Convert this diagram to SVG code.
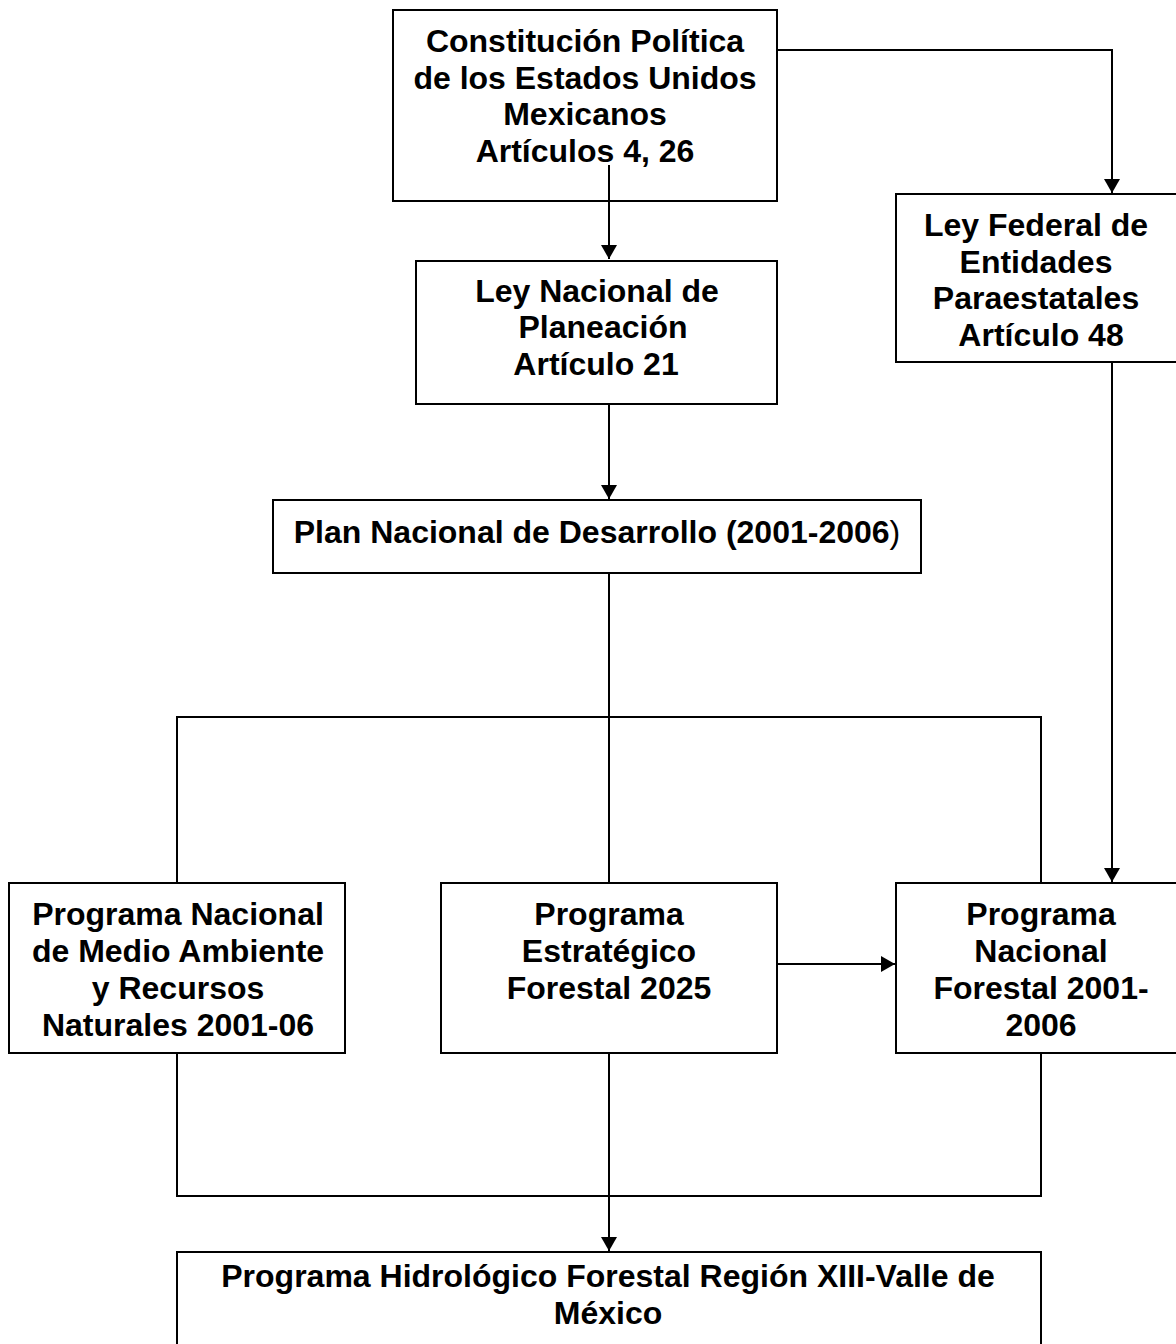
<svg xmlns="http://www.w3.org/2000/svg" width="1176" height="1344" viewBox="0 0 1176 1344">
<style>
.box{fill:#fff;stroke:#000;stroke-width:2}
.t{font-family:"Liberation Sans",Arial,sans-serif;font-weight:bold;font-size:32px;fill:#000;text-anchor:middle}
.c{fill:none;stroke:#000;stroke-width:2}
</style>
<defs>
<marker id="ah" markerUnits="userSpaceOnUse" markerWidth="14" markerHeight="18" viewBox="0 0 14 18" refX="14" refY="9" orient="auto">
<path d="M0,1 L14,9 L0,17 Z" fill="#000"/>
</marker>
</defs>
<rect width="1176" height="1344" fill="#fff"/>
<g id="n1">
<rect class="box" x="393" y="10" width="384" height="191"/>
<text class="t" x="585" y="52">Constitución Política</text>
<text class="t" x="585" y="89">de los Estados Unidos</text>
<text class="t" x="585" y="125">Mexicanos</text>
<text class="t" x="585" y="162">Artículos 4, 26</text>
</g>
<g id="n2">
<rect class="box" x="896" y="194" width="290" height="168"/>
<text class="t" x="1036" y="236">Ley Federal de</text>
<text class="t" x="1036" y="273">Entidades</text>
<text class="t" x="1036" y="309">Paraestatales</text>
<text class="t" x="1041" y="346">Artículo 48</text>
</g>
<g id="n3">
<rect class="box" x="416" y="261" width="361" height="143"/>
<text class="t" x="597" y="302">Ley Nacional de</text>
<text class="t" x="603" y="338">Planeación</text>
<text class="t" x="596" y="375">Artículo 21</text>
</g>
<g id="n4">
<rect class="box" x="273" y="500" width="648" height="73"/>
<text class="t" x="597" y="543">Plan Nacional de Desarrollo (2001-2006<tspan font-weight="normal">)</tspan></text>
</g>
<g id="n5">
<rect class="box" x="9" y="883" width="336" height="170"/>
<text class="t" x="178" y="925">Programa Nacional</text>
<text class="t" x="178" y="962">de Medio Ambiente</text>
<text class="t" x="178" y="999">y Recursos</text>
<text class="t" x="178" y="1036">Naturales 2001-06</text>
</g>
<g id="n6">
<rect class="box" x="441" y="883" width="336" height="170"/>
<text class="t" x="609" y="925">Programa</text>
<text class="t" x="609" y="962">Estratégico</text>
<text class="t" x="609" y="999">Forestal 2025</text>
</g>
<g id="n7">
<rect class="box" x="896" y="883" width="290" height="170"/>
<text class="t" x="1041" y="925">Programa</text>
<text class="t" x="1041" y="962">Nacional</text>
<text class="t" x="1041" y="999">Forestal 2001-</text>
<text class="t" x="1041" y="1036">2006</text>
</g>
<g id="n8">
<rect class="box" x="177" y="1252" width="864" height="110"/>
<text class="t" x="608" y="1287">Programa Hidrológico Forestal Región XIII-Valle de</text>
<text class="t" x="608" y="1324">México</text>
</g>
<g id="connectors">
<path class="c" d="M777,50 H1112 V193" marker-end="url(#ah)"/>
<path class="c" d="M609,165 V259" marker-end="url(#ah)"/>
<path class="c" d="M609,405 V499" marker-end="url(#ah)"/>
<path class="c" d="M609,574 V882"/>
<path class="c" d="M177,882 V717 H1041 V882"/>
<path class="c" d="M1112,363 V882" marker-end="url(#ah)"/>
<path class="c" d="M778,964 H895" marker-end="url(#ah)"/>
<path class="c" d="M177,1054 V1196 H1041 V1054"/>
<path class="c" d="M609,1054 V1251" marker-end="url(#ah)"/>
</g>
</svg>
